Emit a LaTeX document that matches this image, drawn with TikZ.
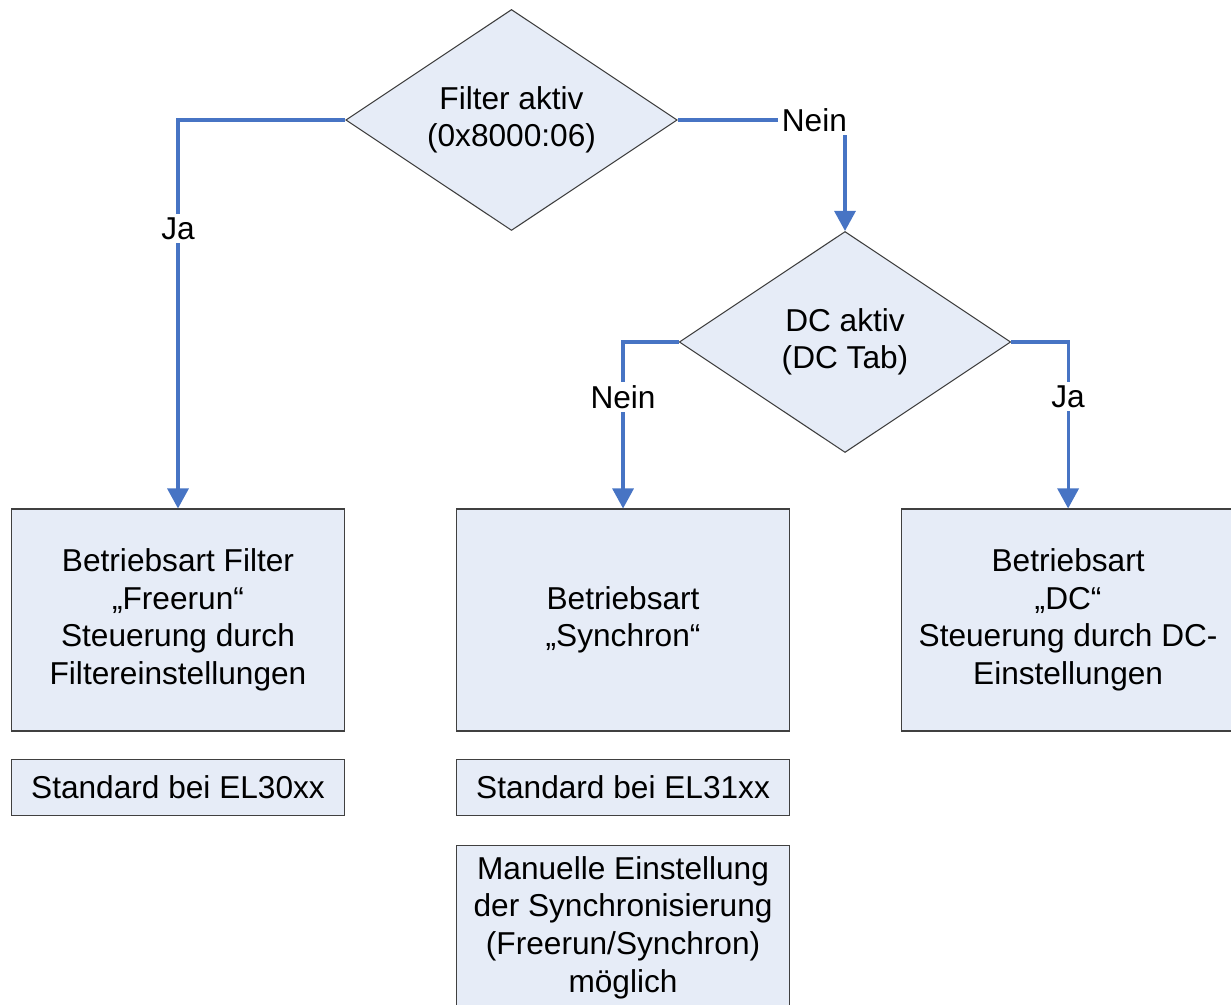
\documentclass[tikz,border=0pt]{standalone}
\usepackage{fontspec}
\setmainfont{Liberation Sans}
\usetikzlibrary{arrows.meta, positioning, shapes.geometric}
\definecolor{boxfill}{RGB}{230,236,247}
\definecolor{flowblue}{RGB}{71,116,196}

\begin{document}
\begin{tikzpicture}[node distance=2.22cm,
  box/.style={draw=black!75, line width=0.6pt, fill=boxfill, minimum width=6.66cm,
              minimum height=4.44cm, align=center, inner sep=2pt,
              font=\fontsize{18}{21.4}\selectfont},
  note/.style={box, minimum height=1.12cm},
  decision/.style={diamond, draw=black!75, line width=0.6pt, fill=boxfill, aspect=1.5,
                   minimum width=6.63cm, minimum height=4.42cm, inner sep=1pt,
                   align=center, font=\fontsize{18}{21.4}\selectfont},
  flow/.style={draw=flowblue, line width=1.8pt, -{Triangle[width=0.42cm, length=0.4cm]}},
  lbl/.style={fill=white, inner sep=2pt, font=\fontsize{18}{21.4}\selectfont}]
  \useasboundingbox (0,0) rectangle (24.62,-20.1);
  \node[decision] (filter) at (10.23,-2.4) {Filter aktiv\\(0x8000:06)};
  \node[decision] (dc)     at (16.9,-6.84)  {DC aktiv\\(DC Tab)};
  \node[box] (freerun) at (3.56,-12.4)
     {Betriebsart Filter\\„Freerun“\\Steuerung durch\\Filtereinstellungen};
  \node[box, right=of freerun] (synchron) {Betriebsart\\„Synchron“};
  \node[box, right=of synchron] (dcmode)
     {Betriebsart\\„DC“\\Steuerung durch DC-\\Einstellungen};
  \node[note, below=0.54cm of freerun] (std30) {Standard bei EL30xx};
  \node[note, below=0.54cm of synchron] (std31) {Standard bei EL31xx};
  \node[box, minimum height=3.3cm, below=0.58cm of std31] (manual)
     {Manuelle Einstellung\\der Synchronisierung\\(Freerun/Synchron)\\möglich};
  % branches
  \draw[flow] (filter.west) -| node[lbl, pos=0.64] {Ja} (freerun.north);
  \draw[flow] (filter.east) -| node[lbl, pos=0.5, anchor=east, xshift=4pt] {Nein} (dc.north);
  \draw[flow] (dc.west) -| node[lbl, pos=0.665] {Nein} (synchron.north);
  \draw[flow] (dc.east) -| node[lbl, pos=0.665] {Ja} (dcmode.north);
\end{tikzpicture}
\end{document}
